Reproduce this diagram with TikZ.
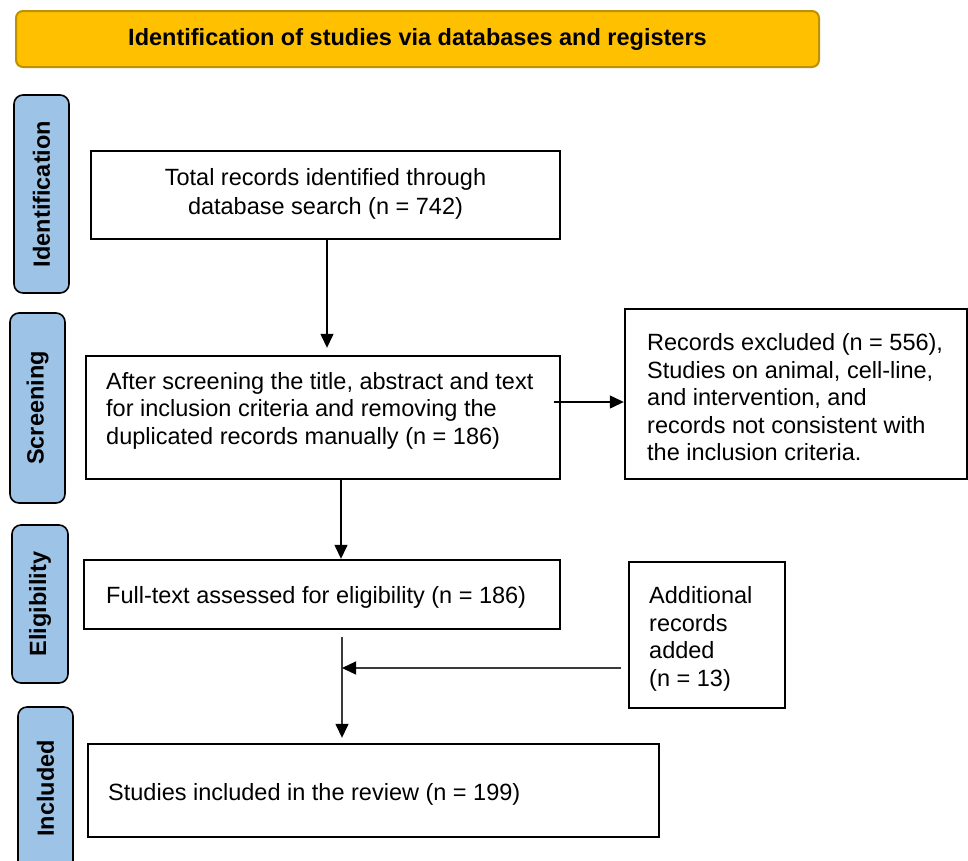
\documentclass[tikz,border=0pt]{standalone}
\usepackage{fontspec}
\setmainfont{Liberation Sans}
\usetikzlibrary{arrows.meta,calc}
\definecolor{gold}{HTML}{FFC000}
\definecolor{golddark}{HTML}{BF9000}
\definecolor{stageblue}{HTML}{9DC3E6}
\definecolor{linegray}{HTML}{3A3A3A}
\begin{document}
\begin{tikzpicture}[x=1pt,y=-1pt,
  fnt/.style={font=\fontsize{23.5}{27.5}\selectfont},
  banner/.style={draw=golddark, fill=gold, line width=2pt, rounded corners=7pt, inner sep=0pt,
    font=\bfseries\fontsize{23.5}{28}\selectfont},
  stage/.style={draw=black, fill=stageblue, line width=1.6pt, rounded corners=9pt, rotate=90,
    inner sep=0pt, font=\bfseries\fontsize{23.5}{28}\selectfont},
  box/.style={draw=black, line width=2.4pt, inner sep=0pt},
  txt/.style={inner sep=0pt, align=left, fnt},
  arr/.style={line width=1.3pt, draw=black, -{Triangle[length=14pt,width=13pt]}},
  arrg/.style={line width=1.3pt, draw=linegray, -{Triangle[length=14pt,width=13pt,color=black]}},
]
\clip (0,0) rectangle (968,860);
\fill[white] (0,0) rectangle (968,860);

% banner
\node[banner, minimum width=803pt, minimum height=56pt] (ban) at (417.5,39)
  {Identification of studies via databases and registers};

% stage labels
\node[stage, minimum width=198pt, minimum height=55pt] (sid) at (41.5,194) {Identification};
\node[stage, minimum width=190pt, minimum height=55pt] (sscr) at (37.5,408) {Screening};
\node[stage, minimum width=158pt, minimum height=56pt] (selig) at (40,604) {Eligibility};
\node[stage, minimum width=163pt, minimum height=55pt] (sinc) at (45.5,788.5) {Included};

% boxes
\node[box, minimum width=469pt, minimum height=88pt] (b1) at (325.5,195) {};
\node[box, minimum width=474pt, minimum height=123pt] (b2) at (323,417.5) {};
\node[box, minimum width=342pt, minimum height=170pt] (b3) at (796,394) {};
\node[box, minimum width=476pt, minimum height=69pt] (b4) at (322,594.5) {};
\node[box, minimum width=156pt, minimum height=146pt] (b5) at (707,635) {};
\node[box, minimum width=571pt, minimum height=93pt] (b6) at (373.5,790.5) {};

% texts
\node[inner sep=0pt, align=center, font=\fontsize{23.5}{29}\selectfont] (t1) at (325.5,193.5)
  {Total records identified through\\database search (n = 742)};
\node[txt, anchor=west] (t2) at (106,410.5)
  {After screening the title, abstract and text\\for inclusion criteria and removing the\\duplicated records manually (n = 186)};
\node[txt, anchor=west] (t3) at (647,397.5)
  {Records excluded (n = 556),\\Studies on animal, cell-line,\\and intervention, and\\records not consistent with\\the inclusion criteria.};
\node[txt, anchor=west] (t4) at (106,597) {Full-text assessed for eligibility (n = 186)};
\node[txt, anchor=west] (t5) at (649,639) {Additional\\records\\added\\(n = 13)};
\node[txt, anchor=west] (t6) at (108,794) {Studies included in the review (n = 199)};

% connectors
\coordinate (x1) at (327,0);
\draw[arr, shorten >=7pt] (b1.south -| x1) -- (b2.north -| x1);
\coordinate (a2) at ($(b2.east)+(-7,-15.5)$);
\draw[arr] (a2) -- (a2 -| b3.west);
\coordinate (x3) at (341,0);
\draw[arr] (b2.south -| x3) -- (b4.north -| x3);
\coordinate (x4) at (342,0);
\coordinate (m1) at ($(b4.south -| x4)+(0,7)$);
\draw[arrg, shorten >=5pt] (m1) -- (b6.north -| x4);
\coordinate (m2) at ($(b5.west)+(-7,33)$);
\draw[arrg] (m2) -- (m2 -| x4);
\end{tikzpicture}
\end{document}
